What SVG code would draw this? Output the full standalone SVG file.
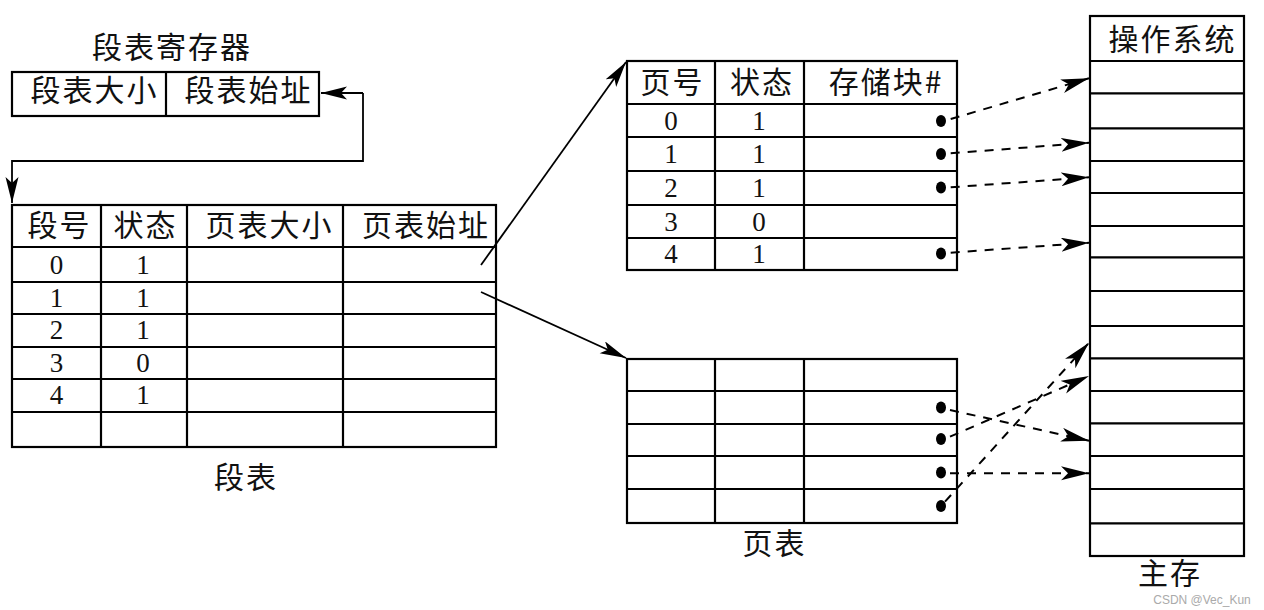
<svg xmlns="http://www.w3.org/2000/svg" width="1264" height="610" viewBox="0 0 1264 610">
<style>
.cell{fill:#fff;stroke:#000;stroke-width:2.2}
.ln{stroke:#000;stroke-width:2.2;fill:none}
.cj{font-family:"Noto Sans CJK SC","Noto Sans CJK JP",sans-serif;font-size:30px;letter-spacing:2px;fill:#111;text-anchor:middle}
.dg{font-family:"Liberation Serif","DejaVu Serif",serif;font-size:27px;fill:#111;text-anchor:middle}
.sa{stroke:#000;stroke-width:1.8;fill:none;marker-end:url(#ah)}
.da{stroke:#000;stroke-width:2;fill:none;stroke-dasharray:9 8;marker-end:url(#ahd)}
.dot{fill:#000}
</style>
<defs>
<marker id="ah" markerUnits="userSpaceOnUse" markerWidth="30" markerHeight="14" refX="26" refY="6.5" orient="auto">
<path d="M0,0 L26,6.5 L0,13 L6,6.5 Z" fill="#000"/>
</marker>
<marker id="ahd" markerUnits="userSpaceOnUse" markerWidth="32" markerHeight="16" refX="28" refY="7" orient="auto">
<path d="M0,0 L28,7 L0,14 L7,7 Z" fill="#000"/>
</marker>
</defs>
<rect width="1264" height="610" fill="#fff"/>

<g id="segment-register">
<text class="cj" x="172" y="58">段表寄存器</text>
<rect class="cell" x="12" y="72" width="307" height="44"/>
<line class="ln" x1="166" y1="72" x2="166" y2="116"/>
<text class="cj" x="94.5" y="101">段表大小</text>
<text class="cj" x="248.5" y="101">段表始址</text>
</g>

<g id="segment-table">
<rect class="cell" x="12" y="205" width="484" height="242"/>
<path class="ln" d="M101,205V447M187,205V447M343,205V447M12,247H496M12,282H496M12,314H496M12,347H496M12,379H496M12,412H496"/>
<text class="cj" x="59.5" y="236">段号</text>
<text class="cj" x="145.5" y="236">状态</text>
<text class="cj" x="269.5" y="236">页表大小</text>
<text class="cj" x="426" y="236">页表始址</text>
<text class="dg" x="56.5" y="274">0</text><text class="dg" x="143" y="274">1</text>
<text class="dg" x="56.5" y="307">1</text><text class="dg" x="143" y="307">1</text>
<text class="dg" x="56.5" y="339">2</text><text class="dg" x="143" y="339">1</text>
<text class="dg" x="56.5" y="372">3</text><text class="dg" x="143" y="372">0</text>
<text class="dg" x="56.5" y="404">4</text><text class="dg" x="143" y="404">1</text>
<text class="cj" x="246" y="488">段表</text>
</g>

<g id="page-table-1">
<rect class="cell" x="627" y="61" width="330" height="209"/>
<path class="ln" d="M715,61V270M804,61V270M627,104H957M627,137H957M627,171H957M627,205H957M627,238H957"/>
<text class="cj" x="672.5" y="93">页号</text>
<text class="cj" x="762" y="93">状态</text>
<text class="cj" x="886" y="93">存储块#</text>
<text class="dg" x="671" y="130">0</text><text class="dg" x="759" y="130">1</text>
<text class="dg" x="671" y="163">1</text><text class="dg" x="759" y="163">1</text>
<text class="dg" x="671" y="197">2</text><text class="dg" x="759" y="197">1</text>
<text class="dg" x="671" y="231">3</text><text class="dg" x="759" y="231">0</text>
<text class="dg" x="671" y="263">4</text><text class="dg" x="759" y="263">1</text>
<ellipse class="dot" cx="941" cy="121" rx="5" ry="6"/>
<ellipse class="dot" cx="941" cy="154" rx="5" ry="6"/>
<ellipse class="dot" cx="941" cy="187.5" rx="5" ry="6"/>
<ellipse class="dot" cx="941" cy="253.5" rx="5" ry="6"/>
</g>

<g id="page-table-2">
<rect class="cell" x="627" y="359" width="330" height="164"/>
<path class="ln" d="M715,359V523M804,359V523M627,391H957M627,424H957M627,456H957M627,489H957"/>
<ellipse class="dot" cx="941" cy="407.5" rx="5" ry="6"/>
<ellipse class="dot" cx="941" cy="439" rx="5" ry="6"/>
<ellipse class="dot" cx="941" cy="472.5" rx="5" ry="6"/>
<ellipse class="dot" cx="941" cy="506" rx="5" ry="6"/>
<text class="cj" x="774.5" y="554">页表</text>
</g>

<g id="main-memory">
<rect class="cell" x="1090" y="16" width="154" height="540"/>
<path class="ln" d="M1090,61H1244M1090,93.3H1244M1090,128.3H1244M1090,161H1244M1090,193H1244M1090,226H1244M1090,257.3H1244M1090,291H1244M1090,326H1244M1090,358.3H1244M1090,391H1244M1090,423.3H1244M1090,456H1244M1090,489H1244M1090,523.3H1244"/>
<text class="cj" x="1170" y="584">主存</text>
<text class="cj" x="1172.5" y="50">操作系统</text>
<text x="1202" y="604" font-family="Liberation Sans, Arial, sans-serif" font-size="12" fill="#aaa" text-anchor="middle">CSDN @Vec_Kun</text>
</g>

<g id="connectors">
<path class="sa" d="M363,93 H321"/>
<path class="sa" d="M363,93 V161 H12 V203"/>
<path class="sa" d="M481,265 L626,62"/>
<path class="sa" d="M481,292 L626,358"/>
<path class="da" d="M950.7,119 L1089,78.3"/>
<path class="da" d="M950.7,153.3 L1089,142.7"/>
<path class="da" d="M950.7,187.3 L1089,177.3"/>
<path class="da" d="M950.7,252.7 L1089,242.7"/>
<path class="da" d="M950,410 L1089,440.7"/>
<path class="da" d="M950,436.7 L1089,376"/>
<path class="da" d="M950,473.3 L1089,473.3"/>
<path class="da" d="M945,501.7 L1089,342.7"/>
</g>
</svg>
